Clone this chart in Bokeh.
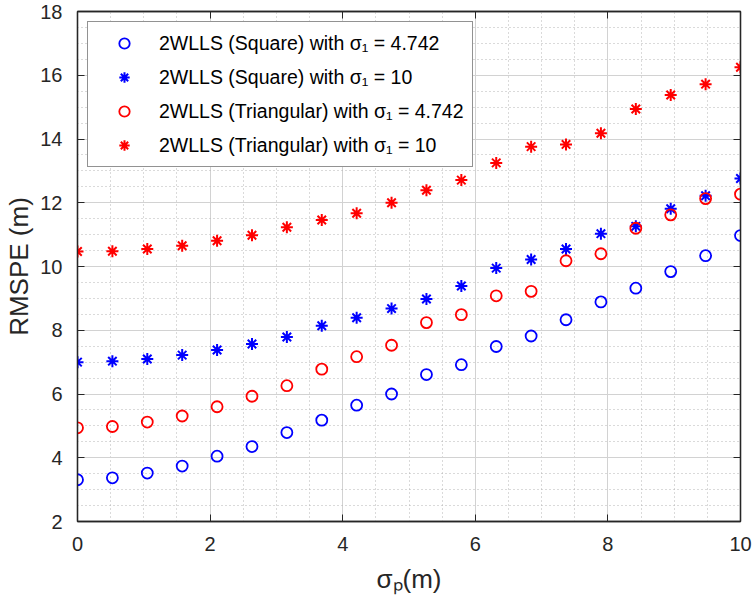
from bokeh.plotting import figure
from bokeh.models import (Range1d, SingleIntervalTicker, Legend, LegendItem,
                          LinearAxis, CustomJSTickFormatter)
from bokeh.embed import file_html
from bokeh.resources import INLINE

# ---- data ----
sigma_p = [0.0, 0.5263, 1.0526, 1.5789, 2.1053, 2.6316, 3.1579, 3.6842, 4.2105,
           4.7368, 5.2632, 5.7895, 6.3158, 6.8421, 7.3684, 7.8947, 8.4211,
           8.9474, 9.4737, 10.0]
square_4742 = [3.31, 3.37, 3.52, 3.74, 4.05, 4.35, 4.79, 5.18, 5.65, 6.00,
               6.61, 6.92, 7.49, 7.82, 8.33, 8.89, 9.32, 9.84, 10.34, 10.97]
square_10 = [7.00, 7.03, 7.10, 7.22, 7.38, 7.57, 7.79, 8.14, 8.39, 8.68,
             8.98, 9.39, 9.95, 10.22, 10.55, 11.03, 11.26, 11.81, 12.22, 12.76]
tri_4742 = [4.94, 4.98, 5.12, 5.31, 5.60, 5.93, 6.26, 6.78, 7.17, 7.53,
            8.24, 8.49, 9.08, 9.22, 10.18, 10.40, 11.20, 11.62, 12.13, 12.27]
tri_10 = [10.47, 10.48, 10.55, 10.65, 10.81, 10.98, 11.23, 11.46, 11.67, 12.00,
          12.39, 12.71, 13.25, 13.76, 13.83, 14.18, 14.94, 15.38, 15.72, 16.25]

legend_labels = [
    "2WLLS (Square) with \u03c3\u2081 = 4.742",
    "2WLLS (Square) with \u03c3\u2081 = 10",
    "2WLLS (Triangular) with \u03c3\u2081 = 4.742",
    "2WLLS (Triangular) with \u03c3\u2081 = 10",
]
x_label = "\u03c3\u209a(m)"
y_label = "RMSPE (m)"

FONT = "Liberation Sans"
AX = "#262626"

p = figure(width=754, height=606, output_backend="svg", toolbar_location=None,
           x_range=Range1d(0, 10), y_range=Range1d(2, 18),
           min_border_left=77, min_border_right=14, min_border_top=11,
           min_border_bottom=85, background_fill_color="white",
           border_fill_color="white", outline_line_color=AX,
           outline_line_width=1.3)

p.xaxis.ticker = SingleIntervalTicker(interval=2, num_minor_ticks=4)
p.yaxis.ticker = SingleIntervalTicker(interval=2, num_minor_ticks=4)

for ax in (p.xaxis[0], p.yaxis[0]):
    ax.axis_line_color = AX
    ax.axis_line_width = 1.3
    ax.major_tick_line_color = AX
    ax.major_tick_in = 7
    ax.major_tick_out = 0
    ax.minor_tick_line_color = None
    ax.major_label_text_font = FONT
    ax.major_label_text_font_size = "20px"
    ax.major_label_text_color = AX
    ax.major_label_standoff = 11
    ax.axis_label_text_font = FONT
    ax.axis_label_text_font_size = "26px"
    ax.axis_label_text_font_style = "normal"
    ax.axis_label_text_color = AX

p.yaxis.axis_label = y_label
p.yaxis.axis_label_standoff = 3
p.xaxis.axis_label = x_label
p.xaxis.axis_label_standoff = 10

# box axes (top / right): inward ticks only, no labels
for side in ("above", "right"):
    ax = LinearAxis(ticker=SingleIntervalTicker(interval=2),
                    formatter=CustomJSTickFormatter(code="return ''"))
    ax.axis_line_color = AX
    ax.axis_line_width = 1.3
    ax.major_tick_line_color = AX
    ax.major_tick_in = 7
    ax.major_tick_out = 0
    ax.minor_tick_line_color = None
    ax.major_label_standoff = 0
    p.add_layout(ax, side)

for g in (p.xgrid[0], p.ygrid[0]):
    g.grid_line_color = "#d2d2d2"
    g.grid_line_width = 1
    g.minor_grid_line_color = "#b4b4b4"
    g.minor_grid_line_dash = "1 3"
    g.minor_grid_line_width = 1

BLUE = "#0000ff"
RED = "#ff0000"
r1 = p.scatter(sigma_p, square_4742, marker="circle", size=11, fill_color=None,
               line_color=BLUE, line_width=1.8)
r2 = p.scatter(sigma_p, square_10, marker="asterisk", size=12,
               line_color=BLUE, line_width=2)
r3 = p.scatter(sigma_p, tri_4742, marker="circle", size=11, fill_color=None,
               line_color=RED, line_width=1.8)
r4 = p.scatter(sigma_p, tri_10, marker="asterisk", size=12,
               line_color=RED, line_width=2)

legend = Legend(items=[LegendItem(label=l, renderers=[r])
                       for l, r in zip(legend_labels, [r1, r2, r3, r4])],
                location="top_left", margin=10, padding=8, spacing=8,
                glyph_width=56, glyph_height=26, label_height=26,
                label_standoff=7, label_text_font=FONT,
                label_text_font_size="19.5px", label_text_color="#000000",
                border_line_color=AX, border_line_width=1.2,
                background_fill_color="white", background_fill_alpha=1.0)
p.add_layout(legend)

open("out.html", "w").write(file_html(p, INLINE))
